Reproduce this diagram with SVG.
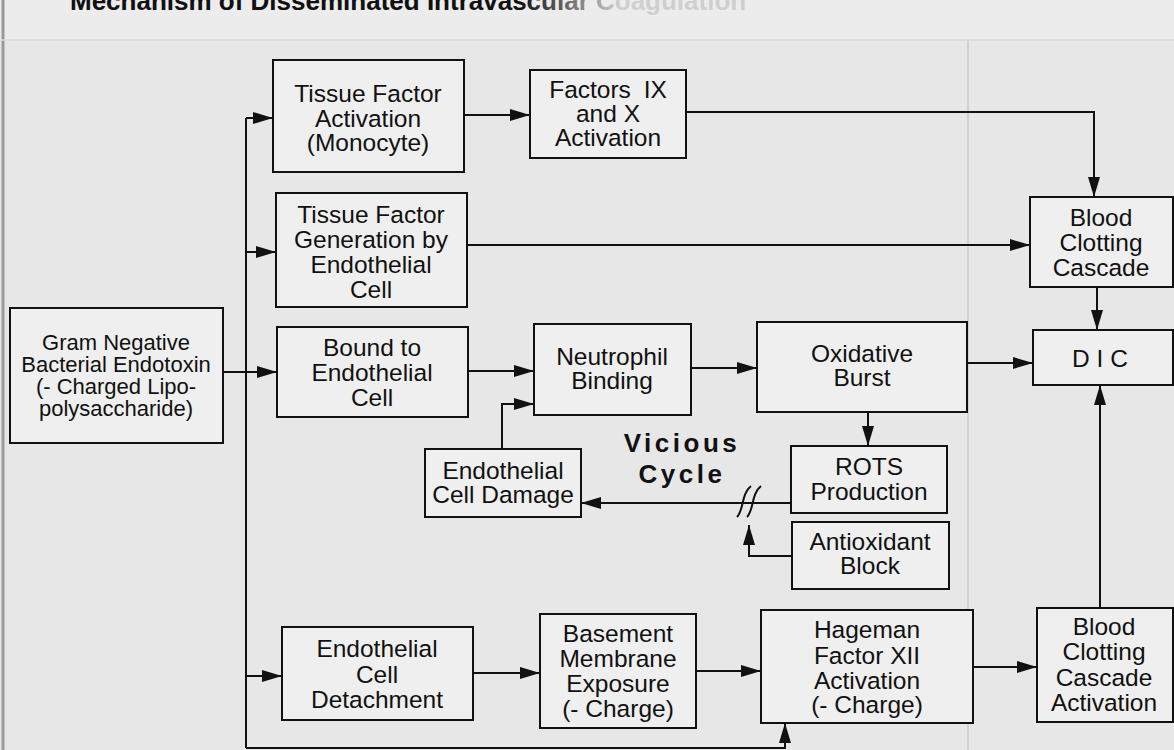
<svg xmlns="http://www.w3.org/2000/svg" width="1174" height="750" viewBox="0 0 1174 750">
<defs>
<marker id="ah" markerUnits="userSpaceOnUse" markerWidth="20" markerHeight="12" refX="20" refY="6" orient="auto">
<path d="M0,0 L20,6 L0,12 Z" fill="#111"/>
</marker>
<linearGradient id="tfade" gradientUnits="userSpaceOnUse" x1="520" y1="0" x2="620" y2="0">
<stop offset="0" stop-color="#111"/>
<stop offset="1" stop-color="#cfcfcf"/>
</linearGradient>
<style>
.box{fill:#efefef;stroke:#111;stroke-width:2}
.t{font-family:"Liberation Sans",Arial,sans-serif;font-size:24.5px;fill:#111;text-anchor:middle}
.ts{font-family:"Liberation Sans",Arial,sans-serif;font-size:22px;fill:#111;text-anchor:middle}
.c{fill:none;stroke:#111;stroke-width:2}
.a{fill:none;stroke:#111;stroke-width:2;marker-end:url(#ah)}
.vc{font-family:"Liberation Sans",Arial,sans-serif;font-size:26px;font-weight:bold;fill:#111;text-anchor:middle;letter-spacing:3.5px}
</style>
</defs>
<rect x="0" y="0" width="1174" height="750" fill="#e7e7e7"/>
<rect x="0" y="0" width="1174" height="40" fill="#ececec"/>
<line x1="3" y1="0" x2="3" y2="750" stroke="#9a9a9a" stroke-width="3"/>
<line x1="968" y1="40" x2="968" y2="750" stroke="#d2d2d2" stroke-width="2"/>
<line x1="0" y1="40" x2="1174" y2="40" stroke="#dadada" stroke-width="1.5"/>
<text x="70" y="10" font-family="Liberation Sans,Arial,sans-serif" font-size="26" font-weight="bold" fill="url(#tfade)">Mechanism of Disseminated Intravascular Coagulation</text>

<g id="connectors">
<path class="c" d="M246,748 V118"/>
<path class="a" d="M246,118 H273"/>
<path class="a" d="M464,115 H530"/>
<path class="a" d="M686,112 H1094 V197"/>
<path class="a" d="M246,252 H276"/>
<path class="a" d="M467,245 H1030"/>
<path class="a" d="M223,372 H277"/>
<path class="a" d="M468,371 H534"/>
<path class="a" d="M691,368 H757"/>
<path class="a" d="M967,363 H1033"/>
<path class="a" d="M1097,287 V330"/>
<path class="a" d="M868,412 V446"/>
<path class="a" d="M791,503 H581"/>
<path class="a" d="M502,449 V404 H534"/>
<path class="a" d="M792,556 H749 V525"/>
<path class="c" d="M737,517 C744,510 741,494 751,486"/>
<path class="c" d="M747,517 C754,510 751,494 761,486"/>
<path class="a" d="M246,676 H282"/>
<path class="a" d="M473,673 H540"/>
<path class="a" d="M696,671 H761"/>
<path class="a" d="M973,667 H1037"/>
<path class="a" d="M1100,608 V385"/>
<path class="a" d="M246,748 H785 V723"/>
</g>

<g id="tfa">
<rect class="box" x="273" y="60" width="191" height="112"/>
<text class="t" x="368" y="102">Tissue Factor</text>
<text class="t" x="368" y="127">Activation</text>
<text class="t" x="368" y="151">(Monocyte)</text>
</g>
<g id="factors">
<rect class="box" x="530" y="70" width="156" height="88"/>
<text class="t" x="608" y="98" word-spacing="6">Factors IX</text>
<text class="t" x="608" y="122">and X</text>
<text class="t" x="608" y="146">Activation</text>
</g>
<g id="bcc">
<rect class="box" x="1030" y="197" width="143" height="90"/>
<text class="t" x="1101" y="226">Blood</text>
<text class="t" x="1101" y="251">Clotting</text>
<text class="t" x="1101" y="276">Cascade</text>
</g>
<g id="tfg">
<rect class="box" x="276" y="193" width="191" height="114"/>
<text class="t" x="371" y="223">Tissue Factor</text>
<text class="t" x="371" y="248">Generation by</text>
<text class="t" x="371" y="273">Endothelial</text>
<text class="t" x="371" y="298">Cell</text>
</g>
<g id="gram">
<rect class="box" x="10" y="308" width="213" height="135"/>
<text class="ts" x="116" y="350">Gram Negative</text>
<text class="ts" x="116" y="372">Bacterial Endotoxin</text>
<text class="ts" x="116" y="394">(- Charged Lipo-</text>
<text class="ts" x="116" y="416">polysaccharide)</text>
</g>
<g id="bound">
<rect class="box" x="277" y="327" width="191" height="90"/>
<text class="t" x="372" y="356">Bound to</text>
<text class="t" x="372" y="381">Endothelial</text>
<text class="t" x="372" y="406">Cell</text>
</g>
<g id="neutrophil">
<rect class="box" x="534" y="324" width="157" height="91"/>
<text class="t" x="612" y="365">Neutrophil</text>
<text class="t" x="612" y="389">Binding</text>
</g>
<g id="oxidative">
<rect class="box" x="757" y="322" width="210" height="90"/>
<text class="t" x="862" y="362">Oxidative</text>
<text class="t" x="862" y="386">Burst</text>
</g>
<g id="dic">
<rect class="box" x="1033" y="330" width="140" height="55"/>
<text class="t" x="1100" y="367">D I C</text>
</g>
<g id="rots">
<rect class="box" x="791" y="446" width="156" height="67"/>
<text class="t" x="869" y="475">ROTS</text>
<text class="t" x="869" y="500">Production</text>
</g>
<g id="ecd">
<rect class="box" x="425" y="449" width="156" height="68"/>
<text class="t" x="503" y="479">Endothelial</text>
<text class="t" x="503" y="503">Cell Damage</text>
</g>
<g id="antiox">
<rect class="box" x="792" y="522" width="157" height="67"/>
<text class="t" x="870" y="550">Antioxidant</text>
<text class="t" x="870" y="574">Block</text>
</g>
<g id="vicious">
<text class="vc" x="682" y="452">Vicious</text>
<text class="vc" x="682" y="483">Cycle</text>
</g>
<g id="hageman">
<rect class="box" x="761" y="610" width="212" height="113"/>
<text class="t" x="867" y="638">Hageman</text>
<text class="t" x="867" y="664">Factor XII</text>
<text class="t" x="867" y="689">Activation</text>
<text class="t" x="867" y="713">(- Charge)</text>
</g>
<g id="bcca">
<rect class="box" x="1037" y="608" width="136" height="114"/>
<text class="t" x="1104" y="635">Blood</text>
<text class="t" x="1104" y="660">Clotting</text>
<text class="t" x="1104" y="686">Cascade</text>
<text class="t" x="1104" y="711">Activation</text>
</g>
<g id="ecdetach">
<rect class="box" x="282" y="627" width="191" height="93"/>
<text class="t" x="377" y="657">Endothelial</text>
<text class="t" x="377" y="683">Cell</text>
<text class="t" x="377" y="708">Detachment</text>
</g>
<g id="basement">
<rect class="box" x="540" y="614" width="156" height="114"/>
<text class="t" x="618" y="642">Basement</text>
<text class="t" x="618" y="667">Membrane</text>
<text class="t" x="618" y="692">Exposure</text>
<text class="t" x="618" y="717">(- Charge)</text>
</g>
</svg>
